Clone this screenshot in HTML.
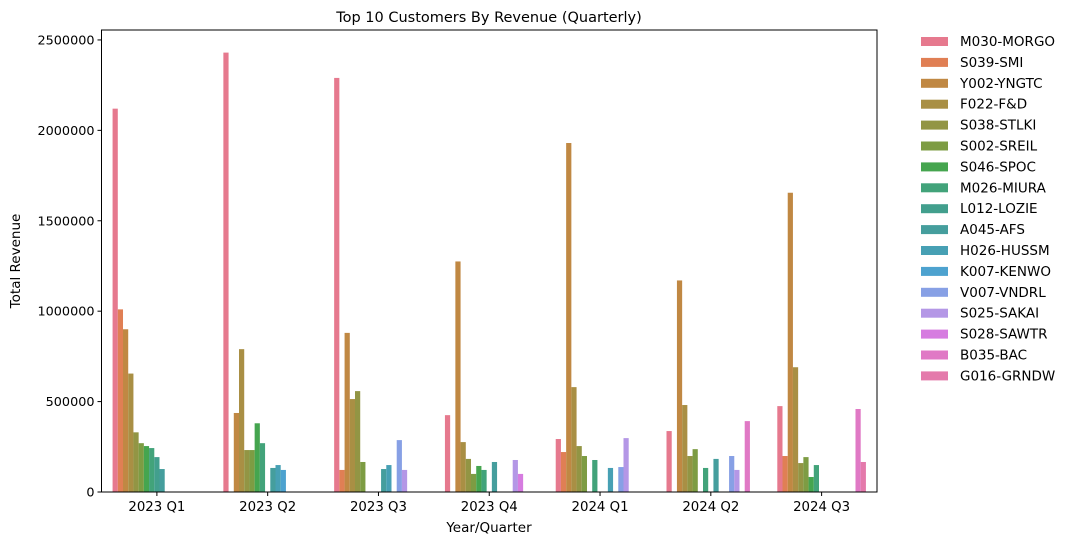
<!DOCTYPE html>
<html><head><meta charset="utf-8"><style>
html,body{margin:0;padding:0;background:#fff;}
svg{display:block;font-family:"DejaVu Sans","Liberation Sans",sans-serif;}
</style></head><body>
<svg id="chart" width="1073" height="545" viewBox="0 0 1073 545" xmlns="http://www.w3.org/2000/svg">
<rect width="1073" height="545" fill="#fff"/>
<text x="489" y="22" font-size="14.5" text-anchor="middle" fill="#000">Top 10 Customers By Revenue (Quarterly)</text>
<g id="bars"></g>
<g id="axes"></g>
<g id="legend"></g>
<text x="489" y="532" font-size="13.5" text-anchor="middle">Year/Quarter</text>
<text x="20" y="261" font-size="13.5" text-anchor="middle" transform="rotate(-90 20 261)">Total Revenue</text>
</svg>
<script>
const categories = ["2023 Q1","2023 Q2","2023 Q3","2023 Q4","2024 Q1","2024 Q2","2024 Q3"];
const customers = ["M030-MORGO","S039-SMI","Y002-YNGTC","F022-F&D","S038-STLKI","S002-SREIL","S046-SPOC","M026-MIURA","L012-LOZIE","A045-AFS","H026-HUSSM","K007-KENWO","V007-VNDRL","S025-SAKAI","S028-SAWTR","B035-BAC","G016-GRNDW"];
const colors = ["#e6798e","#e07f54","#c08843","#a98f44","#929544","#7d9c43","#45a54f","#42a37a","#429f8d","#459e9d","#47a0b4","#4da2cf","#87a0e5","#b497e6","#d67ce0","#e079c5","#e47aab"];
// values[customer][category]
const s_M030 = [2120000,2430000,2290000,425000,293000,337000,475000];
const s_S039 = [1010000,0,122000,0,221000,0,199000];
const s_Y002 = [900000,437000,880000,1275000,1930000,1170000,1655000];
const s_F022 = [655000,790000,514000,276000,580000,481000,690000];
const s_S038 = [330000,232000,558000,183000,254000,199000,160000];
const s_S002 = [270000,232000,166000,100000,199000,237000,193000];
const s_S046 = [254000,380000,0,144000,0,0,83000];
const s_M026 = [243000,270000,0,122000,177000,133000,149000];
const s_L012 = [193000,0,0,0,0,0,0];
const s_A045 = [127000,133000,127000,166000,0,183000,0];
const s_H026 = [0,149000,149000,0,133000,0,0];
const s_K007 = [0,122000,0,0,0,0,0];
const s_V007 = [0,0,287000,0,138000,199000,0];
const s_S025 = [0,0,122000,177000,298000,122000,0];
const s_S028 = [0,0,0,100000,0,0,0];
const s_B035 = [0,0,0,0,0,392000,459000];
const s_G016 = [0,0,0,0,0,0,166000];
const series = [s_M030,s_S039,s_Y002,s_F022,s_S038,s_S002,s_S046,s_M026,s_L012,s_A045,s_H026,s_K007,s_V007,s_S025,s_S028,s_B035,s_G016];
const yTicks = [0,500000,1000000,1500000,2000000,2500000];

const NS="http://www.w3.org/2000/svg";
const L=101.5,R=877,T=30,B=492;
const yMax=2555000;
const y=v=>B-(v/yMax)*(B-T);
const unit=(R-L)/categories.length;
const x=i=>L+unit*(i+0.5);
const bw=unit*0.8/customers.length;
function mk(tag,attrs,parent){const e=document.createElementNS(NS,tag);for(const k in attrs)e.setAttribute(k,attrs[k]);parent.appendChild(e);return e;}
const gb=document.getElementById('bars');
series.forEach((s,h)=>{s.forEach((v,c)=>{if(!v)return;
  const r=mk('rect',{x:x(c)-unit*0.4+h*bw,y:y(v),width:bw,height:B-y(v),fill:colors[h]},gb);
  
  
});});
const ga=document.getElementById('axes');
mk('rect',{x:L,y:T,width:R-L,height:B-T,fill:'none',stroke:'#000','stroke-width':1},ga);
yTicks.forEach(t=>{
  mk('line',{x1:L-4,x2:L,y1:y(t),y2:y(t),stroke:'#000'},ga);
  const tx=mk('text',{x:L-7,y:y(t)+4.5,'font-size':12.8,'text-anchor':'end'},ga);
  tx.textContent=t;
  
  
});
categories.forEach((c,i)=>{
  mk('line',{x1:x(i),x2:x(i),y1:B,y2:B+4,stroke:'#000'},ga);
  const tx=mk('text',{x:x(i),y:B+19,'font-size':13.3,'text-anchor':'middle'},ga);
  tx.textContent=c;
  
  
});
const gl=document.getElementById('legend');
customers.forEach((n,i)=>{
  const yy=41+i*20.9;
  const g=mk('g',{},gl);
  
  
  mk('rect',{x:921,y:yy-4,width:27,height:9,fill:colors[i]},g);
  const t=mk('text',{x:960,y:yy+5,'font-size':13.5},g);
  t.textContent=n;
});
</script>
</body></html>
